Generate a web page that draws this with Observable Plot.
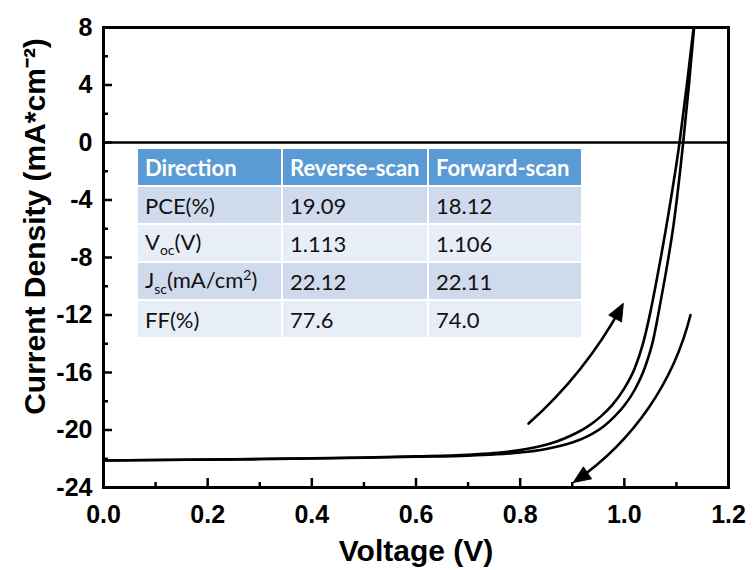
<!DOCTYPE html>
<html><head><meta charset="utf-8">
<script src="https://cdn.jsdelivr.net/npm/d3@7"></script>
<script src="https://cdn.jsdelivr.net/npm/@observablehq/plot@0.6"></script>
<style>
body{margin:0;background:#fff;}
#wrap{position:relative;width:755px;height:570px;overflow:hidden;}
#tbl{position:absolute;left:136px;top:147px;border-collapse:collapse;font-family:Lato,"Open Sans",sans-serif;font-size:22px;color:#111;}
#tbl td,#tbl th{border:2px solid #fff;padding:0 0 0 7px;text-align:left;white-space:nowrap;}
#tbl tr{height:38px;}
#tbl th{background:#5B9BD5;color:#fff;font-weight:bold;}
#tbl tr.dark td{background:#CFDBEC;}
#tbl tr.light td{background:#E8EEF7;}
#tbl sub,#tbl sup{font-size:14px;}
</style></head><body><div id="wrap"></div>
<script>
// Reverse-scan J-V curve (V, mA/cm^2)
const revV = [0, 0.1, 0.2, 0.3, 0.4, 0.5, 0.6, 0.7, 0.75, 0.8, 0.85, 0.878, 0.9, 0.93, 0.96, 0.98, 1.0, 1.02, 1.04, 1.055, 1.07, 1.08, 1.095, 1.113, 1.124, 1.134];
const revJ = [-22.12, -22.09, -22.06, -22.02, -21.98, -21.93, -21.86, -21.78, -21.7, -21.57, -21.32, -21.1, -20.87, -20.42, -19.75, -19.1, -18.3, -17.2, -15.6, -13.8, -11.0, -9.0, -5.6, 0, 4, 8];
// Forward-scan J-V curve
const fwdV = [0, 0.1, 0.2, 0.3, 0.4, 0.5, 0.6, 0.7, 0.75, 0.8, 0.84, 0.87, 0.9, 0.93, 0.955, 0.977, 1.0, 1.02, 1.035, 1.05, 1.065, 1.085, 1.106, 1.12, 1.133];
const fwdJ = [-22.12, -22.09, -22.06, -22.02, -21.97, -21.91, -21.83, -21.72, -21.6, -21.4, -21.12, -20.8, -20.35, -19.75, -19.05, -18.25, -17.1, -15.7, -14.1, -11.8, -9.0, -4.9, 0, 4, 8];

const xMajor = [0, 0.2, 0.4, 0.6, 0.8, 1.0, 1.2];
const xMinor = [0.1, 0.3, 0.5, 0.7, 0.9, 1.1];
const yMajor = [-24, -20, -16, -12, -8, -4, 0, 4, 8];
const yMinor = [-22, -18, -14, -10, -6, -2, 2, 6];

const xLabel = "Voltage (V)";
const yLabel = "Current Density (mA*cm\u207B\u00B2)";

// scan-direction arrows: [start, end]
const upArrowV = [0.816, 0.998];
const upArrowJ = [-19.55, -11.2];
const downArrowV = [1.127, 0.902];
const downArrowJ = [-12.0, -23.65];

// inset table
const tableHeader = ["Direction", "Reverse-scan", "Forward-scan"];
const rowLabels = ["PCE(%)", "V<sub>oc</sub>(V)", "J<sub>sc</sub>(mA/cm<sup>2</sup>)", "FF(%)"];
const reverseVals = ["19.09", "1.113", "22.12", "77.6"];
const forwardVals = ["18.12", "1.106", "22.11", "74.0"];

const W = 755, H = 570, mL = 103, mR = 27, mT = 27, mB = 83;
const xDomain = [0, 1.2], yDomain = [-24, 8];
const sx = d3.scaleLinear(xDomain, [mL, W - mR]);
const sy = d3.scaleLinear(yDomain, [H - mB, mT]);

const rev = revV.map((v, i) => ({V: v, J: revJ[i]}));
const fwd = fwdV.map((v, i) => ({V: v, J: fwdJ[i]}));
function arrowObj(vs, js, bend) {
  const chord = Math.atan2(sy(js[1]) - sy(js[0]), sx(vs[1]) - sx(vs[0])) * 180 / Math.PI;
  return {x1: vs[0], y1: js[0], x2: vs[1], y2: js[1], bend, rot: chord + bend + 90};
}
const upArrow = [arrowObj(upArrowV, upArrowJ, -10)];
const downArrow = [arrowObj(downArrowV, downArrowJ, 21)];
const heads = [...upArrow, ...downArrow];
const headShape = {draw(ctx, l) { ctx.moveTo(0, -l); ctx.lineTo(-l * 0.42, 0); ctx.lineTo(l * 0.42, 0); ctx.closePath(); }};

const fmt = d => String(d);
const arrowStyle = {x1: "x1", y1: "y1", x2: "x2", y2: "y2", stroke: "#000", strokeWidth: 2.6, headLength: 0, insetEnd: 4};
const plot = Plot.plot({
  width: W, height: H,
  marginLeft: mL, marginRight: mR, marginTop: mT, marginBottom: mB,
  style: {fontFamily: "'Liberation Sans', Arial, sans-serif", fontWeight: "bold", fontSize: "25px", color: "#000", background: "#fff"},
  x: {domain: xDomain, label: null},
  y: {domain: yDomain, label: null},
  marks: [
    Plot.ruleY([0], {stroke: "#000", strokeWidth: 2.5}),
    Plot.line(rev, {x: "V", y: "J", curve: "monotone-x", stroke: "#000", strokeWidth: 2.6}),
    Plot.line(fwd, {x: "V", y: "J", curve: "monotone-x", stroke: "#000", strokeWidth: 2.6}),
    Plot.arrow(upArrow, {...arrowStyle, bend: -10}),
    Plot.arrow(downArrow, {...arrowStyle, bend: 21}),
    Plot.vector(heads, {x: "x2", y: "y2", rotate: "rot", length: 17, anchor: "end", shape: headShape, fill: "#000", stroke: "#000", strokeWidth: 1}),
    Plot.axisX(xMajor, {tickSize: -9, tickPadding: 27, strokeWidth: 2.5, tickFormat: d => d.toFixed(1), label: null}),
    Plot.axisX(xMinor, {tickSize: -5, strokeWidth: 2.5, tickFormat: () => "", label: null}),
    Plot.axisY(yMajor, {tickSize: -9, tickPadding: 20, strokeWidth: 2.5, tickFormat: fmt, label: null}),
    Plot.axisY(yMinor, {tickSize: -5, strokeWidth: 2.5, tickFormat: () => "", label: null}),
    Plot.frame({stroke: "#000", strokeWidth: 3}),
    Plot.text([xLabel], {frameAnchor: "bottom", dy: 52, fontSize: 30, lineAnchor: "top", textAnchor: "middle", text: d => d}),
    Plot.text([yLabel], {frameAnchor: "left", dx: -68, dy: -31, rotate: -90, fontSize: 30, textAnchor: "middle", text: d => d})
  ]
});
const wrap = document.getElementById("wrap");
wrap.appendChild(plot);

// build table
const tbl = document.createElement("table");
tbl.id = "tbl";
const colW = [145, 146, 154];
let html = "<tr>" + tableHeader.map((h, i) => `<th style="width:${colW[i] - 9}px">${h}</th>`).join("") + "</tr>";
rowLabels.forEach((r, i) => {
  html += `<tr class="${i % 2 === 0 ? "dark" : "light"}"><td>${r}</td><td>${reverseVals[i]}</td><td>${forwardVals[i]}</td></tr>`;
});
tbl.innerHTML = html;
wrap.appendChild(tbl);
</script></body></html>
